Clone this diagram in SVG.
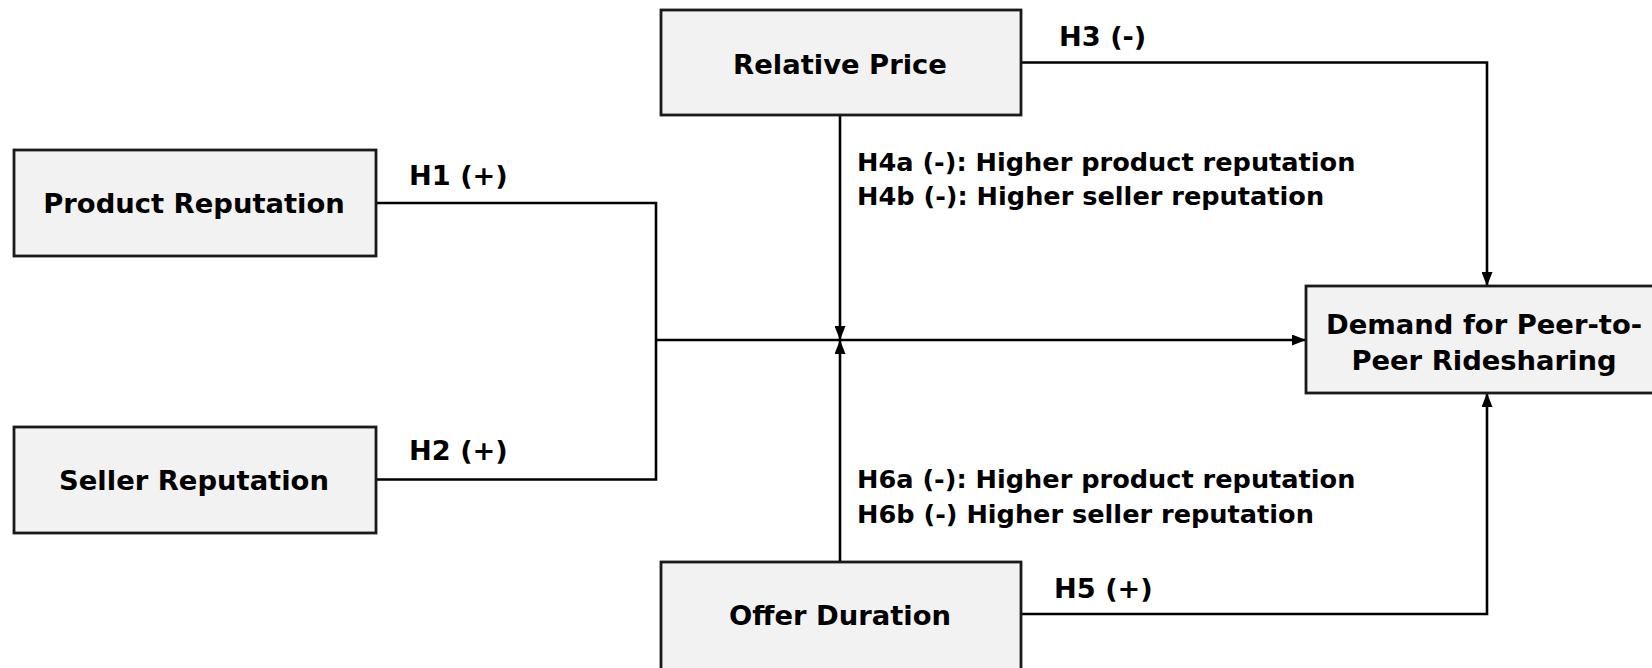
<svg xmlns="http://www.w3.org/2000/svg" width="1652" height="668" viewBox="0 0 1652 668">
<style>
.box{fill:#f2f2f2;stroke:#1a1a1a;stroke-width:2.8}
.t{font-family:"DejaVu Sans",Verdana,sans-serif;font-weight:bold;font-size:27.4px;fill:#000;text-anchor:middle}
.l{font-family:"DejaVu Sans",Verdana,sans-serif;font-weight:bold;font-size:25.6px;fill:#000}
.s{font-family:"DejaVu Sans",Verdana,sans-serif;font-weight:bold;font-size:27.2px;fill:#000}
.c{fill:none;stroke:#000;stroke-width:2.6}
</style>
<defs>
<marker id="ar" viewBox="0 0 14 11" refX="14" refY="5.5" markerWidth="14" markerHeight="11" markerUnits="userSpaceOnUse" orient="auto">
<path d="M0,0 L14,5.5 L0,11 Z" fill="#000"/>
</marker>
</defs>
<rect width="1652" height="668" fill="#fff"/>
<g id="connectors">
<path class="c" d="M376,203 H656 V479.5 H376"/>
<path class="c" d="M656,340 H1306" marker-end="url(#ar)"/>
<path class="c" d="M840,115 V340" marker-end="url(#ar)"/>
<path class="c" d="M840,562 V340" marker-end="url(#ar)"/>
<path class="c" d="M1021,62.5 H1487 V286" marker-end="url(#ar)"/>
<path class="c" d="M1021,614 H1487 V393" marker-end="url(#ar)"/>
</g>
<g id="labels">
<text class="s" x="409" y="185">H1 (+)</text>
<text class="s" x="409" y="460">H2 (+)</text>
<text class="s" x="1059" y="46">H3 (-)</text>
<text class="s" x="1054" y="598">H5 (+)</text>
<text class="l" x="857" y="171">H4a (-): Higher product reputation</text>
<text class="l" x="857" y="205">H4b (-): Higher seller reputation</text>
<text class="l" x="857" y="488">H6a (-): Higher product reputation</text>
<text class="l" x="857" y="523">H6b (-) Higher seller reputation</text>
</g>
<g id="product-reputation">
<rect class="box" x="14" y="150" width="362" height="106"/>
<text class="t" x="194" y="213">Product Reputation</text>
</g>
<g id="seller-reputation">
<rect class="box" x="14" y="427" width="362" height="106"/>
<text class="t" x="194" y="490">Seller Reputation</text>
</g>
<g id="relative-price">
<rect class="box" x="661" y="10" width="360" height="105"/>
<text class="t" x="840" y="74">Relative Price</text>
</g>
<g id="offer-duration">
<rect class="box" x="661" y="562" width="360" height="108"/>
<text class="t" x="840" y="625">Offer Duration</text>
</g>
<g id="demand">
<rect class="box" x="1306" y="286" width="352" height="107"/>
<text class="t" x="1484" y="334">Demand for Peer-to-</text>
<text class="t" x="1484" y="370">Peer Ridesharing</text>
</g>
</svg>
